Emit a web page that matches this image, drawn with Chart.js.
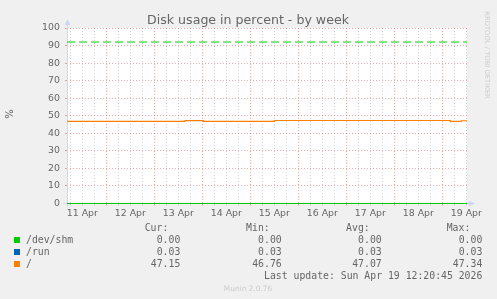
<!DOCTYPE html>
<html lang="en">
<head>
  <meta charset="UTF-8">
  <title>Disk usage in percent - by week</title>
  <style>
    body { margin: 0; background: #f0f0f0; }
    #wrap { position: relative; width: 497px; height: 299px; overflow: hidden;
            font-family: 'DejaVu Sans', sans-serif; color: #666; }
    #wrap canvas { position: absolute; left: 0; top: 0; }
    .t { position: absolute; white-space: nowrap; }
    .mono { font-family: 'DejaVu Sans Mono', monospace; font-size: 9.8px; line-height: 12px; }
    .sq { position: absolute; width: 6px; height: 6px; }
  </style>
  <script src="https://cdn.jsdelivr.net/npm/chart.js"></script>
</head>
<body>
  <div id="wrap">
    <canvas id="chart" width="497" height="299"></canvas>
    <div class="t" style="left:0;width:496px;top:11.6px;text-align:center;font-size:12.6px;line-height:15px;">Disk usage in percent - by week</div>
    <div class="t" style="left:3px;top:108px;width:14px;text-align:center;font-size:10px;line-height:12px;transform:rotate(-90deg);">%</div>
    <div class="t" style="left:434px;top:51px;width:106px;text-align:center;font-size:6.8px;line-height:8px;color:#cfcfcf;transform:rotate(90deg);">RRDTOOL / TOBI OETIKER</div>
    <div class="t" style="left:0;width:496px;top:284px;text-align:center;font-size:7.4px;line-height:9px;color:#cccccc;">Munin 2.0.76</div>
    <div id="legend"></div>
  </div>

  <script>
    // time axis in hours from 11 Apr 00:00, 400px = 200 h window ending 19 Apr 12:20
    const windowStart = 4.33;
    const windowEnd = 204.33;
    const dayLabels = ['11 Apr', '12 Apr', '13 Apr', '14 Apr', '15 Apr', '16 Apr', '17 Apr', '18 Apr', '19 Apr'];

    // "/" usage, each value holds until the next hour listed
    const rootHours = [4.33, 63.3, 72.6, 108, 196, 201.5, 204.33];
    const rootPct = [46.76, 47.25, 46.76, 47.3, 46.76, 47.15, 47.15];

    const flatHours = [4.33, 204.33];
    const shmPct = [0, 0];
    const runPct = [0.03, 0.03];
    const warnPct = [92, 92];

    // legend table
    const seriesNames = ['/dev/shm', '/run', '/'];
    const seriesColors = ['#00cc00', '#0066b3', '#ff8000'];
    const curVals = ['0.00', '0.03', '47.15'];
    const minVals = ['0.00', '0.03', '46.76'];
    const avgVals = ['0.00', '0.03', '47.07'];
    const maxVals = ['0.00', '0.03', '47.34'];
    const lastUpdate = 'Last update: Sun Apr 19 12:20:45 2026';

    const majorGrid = 'rgba(222,79,79,0.5)';
    const minorGrid = 'rgba(143,143,143,0.42)';
    const axisColor = '#cfd6f8';

    function pts(xs, ys) {
      return xs.map((x, i) => ({ x: x, y: ys[i] }));
    }

    // legend rows as html text
    const legend = document.getElementById('legend');
    function addText(txt, xEnd, top, alignLeft) {
      const d = document.createElement('div');
      d.className = 't mono';
      d.textContent = txt;
      d.style.top = top + 'px';
      if (alignLeft) d.style.left = xEnd + 'px';
      else d.style.right = (497 - xEnd) + 'px';
      legend.appendChild(d);
    }
    const cols = [
      { head: 'Cur:', vals: curVals, end: 180.3, headEnd: 168.3 },
      { head: 'Min:', vals: minVals, end: 281.7, headEnd: 269.7 },
      { head: 'Avg:', vals: avgVals, end: 381.7, headEnd: 369.7 },
      { head: 'Max:', vals: maxVals, end: 482.3, headEnd: 470.3 }
    ];
    cols.forEach(c => addText(c.head, c.headEnd, 221.6));
    seriesNames.forEach((name, i) => {
      const top = 233.6 + i * 12;
      const sq = document.createElement('div');
      sq.className = 'sq';
      sq.style.left = '14px';
      sq.style.top = (237 + i * 12) + 'px';
      sq.style.background = seriesColors[i];
      legend.appendChild(sq);
      addText(name, 26, top, true);
      cols.forEach(c => addText(c.vals[i], c.end, top));
    });
    addText(lastUpdate, 482.3, 269.6);

    // background, canvas and axis arrows like rrdtool
    const muninLook = {
      id: 'muninLook',
      beforeDraw(chart) {
        const { ctx, chartArea: a } = chart;
        ctx.save();
        ctx.fillStyle = '#f0f0f0';
        ctx.fillRect(0, 0, chart.width, chart.height);
        ctx.fillStyle = '#ffffff';
        ctx.fillRect(a.left, a.top, a.right - a.left, a.bottom - a.top);
        ctx.restore();
      },
      beforeDatasetsDraw(chart) {
        const { ctx, chartArea: a } = chart;
        const yb = Math.floor(a.bottom) + 0.5;
        ctx.save();
        ctx.strokeStyle = axisColor;
        ctx.fillStyle = axisColor;
        ctx.lineWidth = 1;
        ctx.beginPath();
        ctx.moveTo(a.left - 4, yb);
        ctx.lineTo(a.right + 3, yb);
        ctx.moveTo(a.left + 0.5, yb + 4);
        ctx.lineTo(a.left + 0.5, a.top - 4);
        ctx.stroke();
        ctx.beginPath();
        ctx.moveTo(a.right + 8, yb);
        ctx.lineTo(a.right + 2, yb - 3);
        ctx.lineTo(a.right + 2, yb + 3);
        ctx.closePath();
        ctx.moveTo(a.left + 0.5, a.top - 9);
        ctx.lineTo(a.left - 2.5, a.top - 3);
        ctx.lineTo(a.left + 3.5, a.top - 3);
        ctx.closePath();
        ctx.fill();
        ctx.restore();
      }
    };

    new Chart(document.getElementById('chart'), {
      type: 'line',
      data: {
        datasets: [
          { data: pts(flatHours, warnPct), borderColor: '#00cc00', borderWidth: 1, borderDash: [8, 4], pointRadius: 0 },
          { data: pts(flatHours, shmPct), borderColor: '#00cc00', borderWidth: 1, pointRadius: 0, stepped: 'before' },
          { data: pts(flatHours, runPct), borderColor: '#0066b3', borderWidth: 1, pointRadius: 0, stepped: 'before' },
          { data: pts(rootHours, rootPct), borderColor: '#ff8000', borderWidth: 1.2, pointRadius: 0, stepped: 'before' }
        ]
      },
      options: {
        responsive: false,
        animation: false,
        events: [],
        layout: { padding: { left: 0, top: 28, right: 30, bottom: 0 } },
        plugins: { legend: { display: false }, tooltip: { enabled: false } },
        elements: { line: { tension: 0 } },
        datasets: { line: { clip: 3 } },
        scales: {
          x: {
            type: 'linear',
            min: windowStart,
            max: windowEnd,
            afterFit: s => { s.height = 95.5; },
            grid: {
              color: c => (c.tick && c.tick.value % 24 === 0) ? majorGrid : minorGrid,
              tickLength: 2
            },
            border: { display: false, dash: [1, 2] },
            ticks: {
              stepSize: 6,
              includeBounds: false,
              autoSkip: false,
              maxRotation: 0,
              padding: 2,
              color: '#666',
              font: { family: 'DejaVu Sans', size: 9.4 },
              callback: v => (v % 24 === 12) ? dayLabels[(v - 12) / 24] : ''
            }
          },
          y: {
            min: 0,
            max: 100,
            afterFit: s => { s.width = 67; },
            grid: {
              color: c => (c.tick && c.tick.value % 10 === 0) ? majorGrid : minorGrid,
              tickLength: 2
            },
            border: { display: false, dash: [1, 2] },
            ticks: {
              stepSize: 5,
              padding: 5,
              color: '#666',
              font: { family: 'DejaVu Sans', size: 9.4 },
              callback: v => (v % 10 === 0) ? String(v) : ''
            }
          }
        }
      },
      plugins: [muninLook]
    });
  </script>
</body>
</html>
